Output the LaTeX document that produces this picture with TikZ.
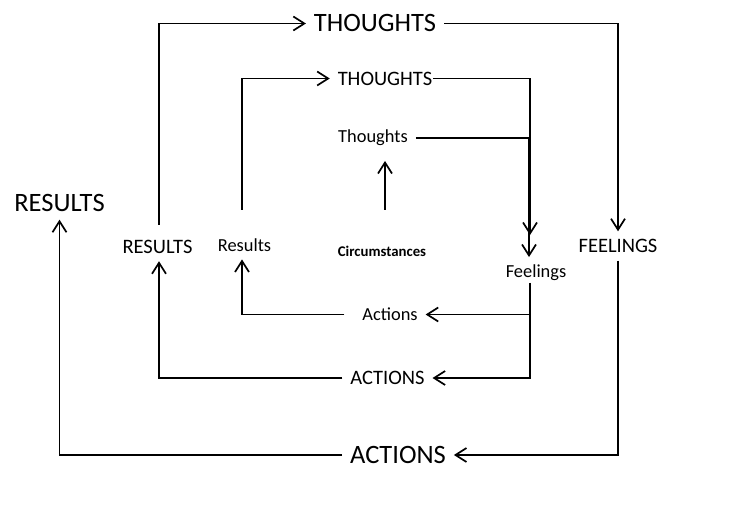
\documentclass[tikz,border=0pt]{standalone}
\usepackage{fontspec}
\setmainfont{Carlito}
\usetikzlibrary{arrows.meta}

\begin{document}
\begin{tikzpicture}[x=1pt, y=1pt, line width=1.7pt,
			>={Straight Barb[length=11pt,width=14pt]},   %Voreinstellung für Pfeilspitzen
			labbig/.style={font=\fontsize{26.5}{30}\selectfont, inner sep=0pt, outer sep=8pt},
			labmid/.style={font=\fontsize{20.5}{24}\selectfont, inner sep=0pt, outer sep=8pt},
			labsmall/.style={font=\fontsize{18.4}{22}\selectfont, inner sep=0pt, outer sep=8pt}]
			%Bildbereich
			\useasboundingbox (0,0) rectangle (750,-513);
			% Knoten aussen
			\node[labbig] (thoughtsA) at (375,-23.5) {THOUGHTS};
			\node[labmid] (feelingsA) at (618,-246) {FEELINGS};
			\node[labbig] (actionsA) at (398,-455) {ACTIONS};
			\node[labbig] (resultsA) at (59.5,-203) {RESULTS};
			% Knoten mitte
			\node[labmid] (thoughtsB) at (385,-78.5) {THOUGHTS};
			\node[labmid] (actionsB) at (387.5,-378) {ACTIONS};
			\node[labmid] (resultsB) at (157.5,-246.5) {RESULTS};
			% Knoten innen
			\node[labsmall] (thoughtsC) at (373,-138) {Thoughts};
			\node[labsmall] (feelingsC) at (536,-273) {Feelings};
			\node[labsmall] (actionsC) at (390,-314.5) {Actions};
			\node[labsmall] (resultsC) at (244.5,-245) {Results};
			\node[font=\bfseries\fontsize{14.8}{18}\selectfont, inner sep=0pt, outer sep=8pt] (circ) at (382,-251) {Circumstances};
			%Kreislauf aussen
			\draw[->, shorten <=7pt] ([xshift=1.5pt]resultsB.north) |- (thoughtsA.west);
			\draw[->] (thoughtsA.east) -| (feelingsA.north);
			\draw[->] (feelingsA.south) |- (actionsA.east);
			\draw[->] (actionsA.west) -| (resultsA.south);
			%Kreislauf mitte
			\draw[->, shorten <=21pt] ([xshift=-2.5pt]resultsC.north) |- (thoughtsB.west);
			\draw[->, shorten >=22pt] ([xshift=-7pt]thoughtsB.east) -| ([xshift=-6pt]feelingsC.north);
			\draw[->] (feelingsC.south) ++(-6pt,6pt) |- (actionsB.east);
			\draw[->] (actionsB.west) -| ([xshift=1.5pt]resultsB.south);
			%Kreislauf innen
			\draw[->, shorten <=28pt, shorten >=7pt] ([xshift=3pt]circ.north) -- ([xshift=3pt]circ.north |- thoughtsC.south);
			\draw[->] (thoughtsC.east) -| ([xshift=-7pt]feelingsC.north);
			\draw[->] (feelingsC.south) ++(-6pt,6pt) |- (actionsC.east);
			\draw[->] ([xshift=-10pt]actionsC.west) -| ([xshift=-2.5pt]resultsC.south);
		\end{tikzpicture}
\end{document}
